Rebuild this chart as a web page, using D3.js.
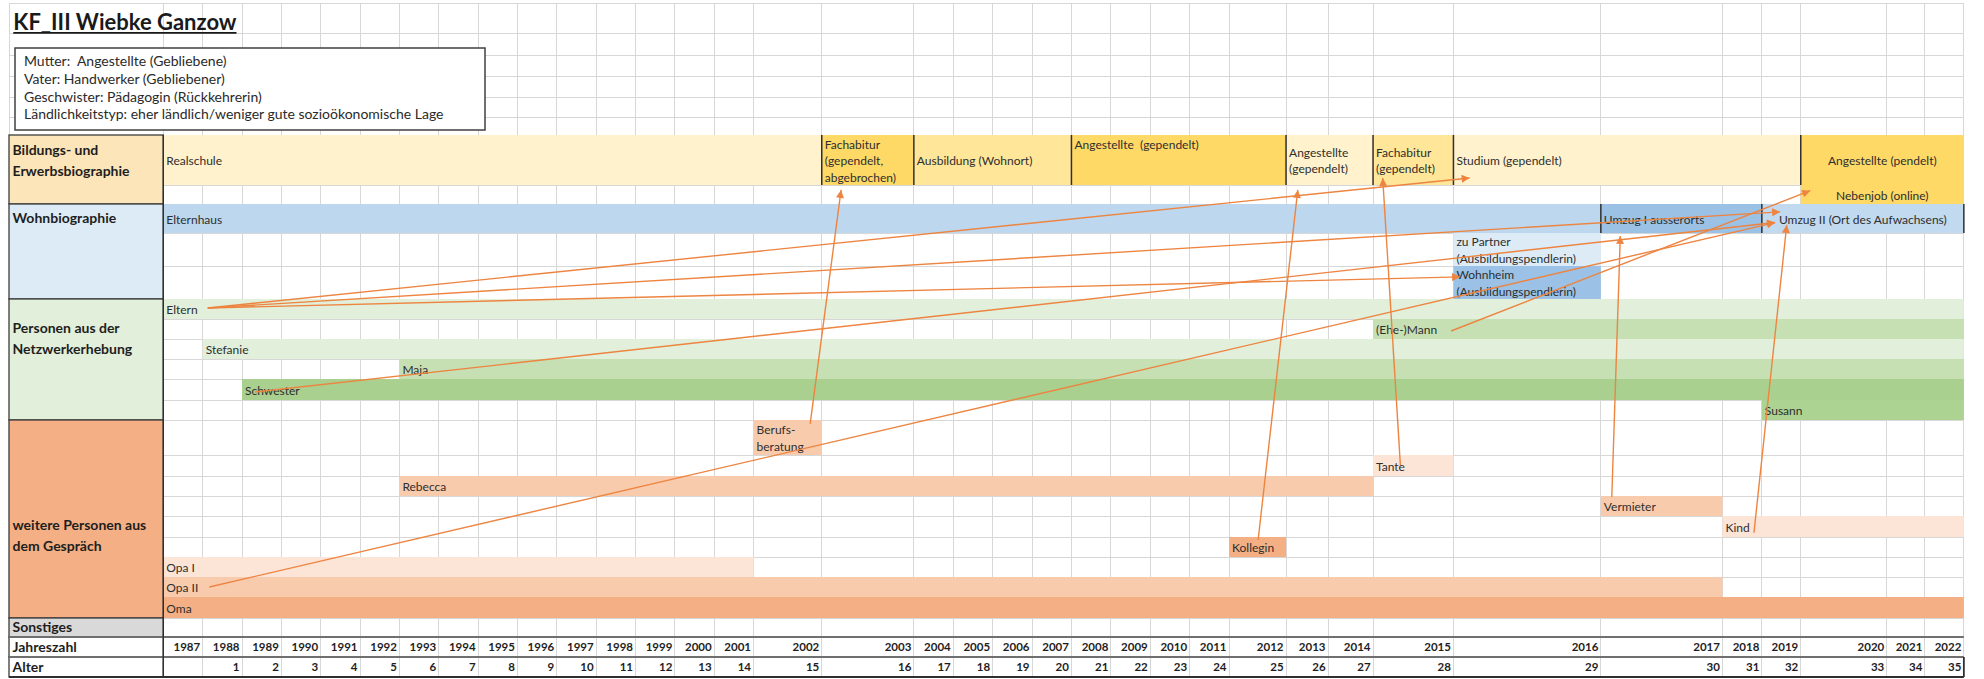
<!DOCTYPE html>
<html><head><meta charset="utf-8">
<script src="https://cdn.jsdelivr.net/npm/d3@7"></script>
<style>
html,body{margin:0;padding:0;background:#fff;}
svg{display:block;font-family:Lato,'Open Sans',sans-serif;}
svg text{white-space:pre;}
</style></head><body>
<svg id="chart" width="1984" height="679"></svg>
<script>
// ---------------- DATA ----------------
const titleText = "KF_III Wiebke Ganzow";
const infoLines = [
  "Mutter:  Angestellte (Gebliebene)",
  "Vater: Handwerker (Gebliebener)",
  "Geschwister: Pädagogin (Rückkehrerin)",
  "Ländlichkeitstyp: eher ländlich/weniger gute sozioökonomische Lage"
];
const years = [1987,1988,1989,1990,1991,1992,1993,1994,1995,1996,1997,1998,1999,2000,2001,2002,2003,2004,2005,2006,2007,2008,2009,2010,2011,2012,2013,2014,2015,2016,2017,2018,2019,2020,2021,2022];
const ages  = ["",1,2,3,4,5,6,7,8,9,10,11,12,13,14,15,16,17,18,19,20,21,22,23,24,25,26,27,28,29,30,31,32,33,34,35];

const sectionLabels = [
  {lines:["Bildungs- und","Erwerbsbiographie"], rows:["bild","neben"]},
  {lines:["Wohnbiographie"], rows:["wohn1","wohn3"]},
  {lines:["Personen aus der","Netzwerkerhebung"], rows:["eltern","susann"]},
  {lines:["weitere Personen aus","dem Gespräch"], rows:["berufs","oma"]},
  {lines:["Sonstiges"], rows:["sonst","sonst"]},
  {lines:["Jahreszahl"], rows:["jahr","jahr"]},
  {lines:["Alter"], rows:["alter","alter"]}
];

const bildung = [
  {id:"realschule",   lines:["Realschule"], from:1987, to:2002, rows:["bild","bild"]},
  {id:"fachabitur1",  lines:["Fachabitur","(gependelt,","abgebrochen)"], from:2003, to:2003, rows:["bild","bild"]},
  {id:"ausbildung",   lines:["Ausbildung (Wohnort)"], from:2004, to:2007, rows:["bild","bild"]},
  {id:"angestellte1", lines:["Angestellte  (gependelt)"], from:2008, to:2012, rows:["bild","bild"]},
  {id:"angestellte2", lines:["Angestellte","(gependelt)"], from:2013, to:2014, rows:["bild","bild"]},
  {id:"fachabitur2",  lines:["Fachabitur","(gependelt)"], from:2015, to:2015, rows:["bild","bild"]},
  {id:"studium",      lines:["Studium (gependelt)"], from:2016, to:2019, rows:["bild","bild"]},
  {id:"angestellte3", lines:["Angestellte (pendelt)"], from:2020, to:2022, rows:["bild","neben"]},
  {id:"nebenjob",     lines:["Nebenjob (online)"], from:2020, to:2022, rows:["neben","neben"]}
];
const wohnen = [
  {id:"elternhaus", lines:["Elternhaus"], from:1987, to:2016, rows:["wohn1","wohn1"]},
  {id:"umzug1",     lines:["Umzug I ausserorts"], from:2017, to:2018, rows:["wohn1","wohn1"]},
  {id:"umzug2",     lines:["Umzug II (Ort des Aufwachsens)"], from:2019, to:2022, rows:["wohn1","wohn1"]},
  {id:"partner",    lines:["zu Partner","(Ausbildungspendlerin)"], from:2016, to:2016, rows:["wohn2","wohn2"]},
  {id:"wohnheim",   lines:["Wohnheim","(Ausbildungspendlerin)"], from:2016, to:2016, rows:["wohn3","wohn3"]}
];
const netzwerk = [
  {id:"eltern",    lines:["Eltern"], from:1987, to:2022, rows:["eltern","eltern"]},
  {id:"mann",      lines:["(Ehe-)Mann"], from:2015, to:2022, rows:["mann","mann"]},
  {id:"stefanie",  lines:["Stefanie"], from:1988, to:2022, rows:["stefanie","stefanie"]},
  {id:"maja",      lines:["Maja"], from:1993, to:2022, rows:["maja","maja"]},
  {id:"schwester", lines:["Schwester"], from:1989, to:2022, rows:["schwester","schwester"]},
  {id:"susann",    lines:["Susann"], from:2019, to:2022, rows:["susann","susann"]}
];
const gespraech = [
  {id:"berufs",    lines:["Berufs-","beratung"], from:2002, to:2002, rows:["berufs","berufs"]},
  {id:"tante",     lines:["Tante"], from:2015, to:2015, rows:["tante","tante"]},
  {id:"rebecca",   lines:["Rebecca"], from:1993, to:2014, rows:["rebecca","rebecca"]},
  {id:"vermieter", lines:["Vermieter"], from:2017, to:2017, rows:["vermieter","vermieter"]},
  {id:"kind",      lines:["Kind"], from:2018, to:2022, rows:["kind","kind"]},
  {id:"kollegin",  lines:["Kollegin"], from:2012, to:2012, rows:["kollegin","kollegin"]},
  {id:"opa1",      lines:["Opa I"], from:1987, to:2001, rows:["opa1","opa1"]},
  {id:"opa2",      lines:["Opa II"], from:1987, to:2017, rows:["opa2","opa2"]},
  {id:"oma",       lines:["Oma"], from:1987, to:2022, rows:["oma","oma"]}
];
// connections: [year (fractional), row, fraction within row]
const links = [
  {from:[1988.13,"eltern",0.45],    to:[2016.11,"bild",0.86]},
  {from:[1988.13,"eltern",0.45],    to:[2019.47,"wohn1",0.27]},
  {from:[1988.13,"eltern",0.45],    to:[2016.045,"wohn3",0.33]},
  {from:[1989.33,"schwester",0.62], to:[2019.34,"wohn1",0.64]},
  {from:[1988.17,"opa2",0.5],       to:[2019.34,"wohn1",0.64]},
  {from:[2015.97,"mann",0.6],       to:[2020.11,"neben",0.3]},
  {from:[2018.8,"kind",0.8],        to:[2019.64,"wohn1",0.72]},
  {from:[2017.09,"vermieter",0.05], to:[2017.16,"wohn2",0.09]},
  {from:[2002.83,"berufs",0.11],    to:[2003.21,"neben",0.26]},
  {from:[2012.51,"kollegin",0.15],  to:[2013.28,"neben",0.26]},
  {from:[2015.34,"tante",0.48],     to:[2015.12,"bild",0.86]}
];

// ---------------- LAYOUT / STYLE ----------------
const colWidths = [39.35,39.35,39.35,39.35,39.35,39.35,39.35,39.35,39.35,39.35,39.35,39.35,39.35,39.35,39.35,
  68.2,92.1,39.4,39.4,39.4,39.4,39.4,39.4,39.4,39.4,57,42,45,80.4,147.4,121.6,39.4,38.9,86,38.1,39];
const rowKeys = ["t0","t1","t2","t3","t4","t5","bild","neben","wohn1","wohn2","wohn3","eltern","mann","stefanie","maja","schwester","susann","berufs","tante","rebecca","vermieter","kind","kollegin","opa1","opa2","oma","sonst","jahr","alter"];
const rowHeights = [30,22,21,21,20,18,50,19,29,33,33,20,20,20,20,21,20,35,21,20,20,21,20,20,20,21,19,20,20];
const gridLeft = 163.3, labelLeft = 9, topY = 3;

const fills = {
  realschule:"#fff2cc", fachabitur1:"#ffd966", ausbildung:"#ffe699", angestellte1:"#ffd966", angestellte2:"#fff2cc",
  fachabitur2:"#ffe699", studium:"#fff2cc", angestellte3:"#ffd966", nebenjob:"none",
  elternhaus:"#bdd7ee", umzug1:"#9bc1e5", umzug2:"#c2daf0", partner:"#ddebf7", wohnheim:"#9bc2e6",
  eltern:"#e2efda", mann:"#c6e0b4", stefanie:"#e2efda", maja:"#c6e0b4", schwester:"#a9d08e", susann:"#add392",
  berufs:"#f8cbad", tante:"#fce4d6", rebecca:"#f8cbad", vermieter:"#f8cbad", kind:"#fce4d6", kollegin:"#f4b084",
  opa1:"#fce4d6", opa2:"#f8cbad", oma:"#f4b084"
};
const sectionFills = ["#fce5b8","#ddebf7","#e2efda","#f4b084","#d9d9d9","#ffffff","#ffffff"];
const sectionTextAnchor = [["bild",0.52],["wohn1",0.5],["stefanie",0],["kind",0.95],["sonst",0.5],["jahr",0.5],["alter",0.5]];
const centeredText = new Set(["angestellte3","nebenjob","umzug2"]);
const topText = new Set(["angestellte1"]);
const lineColor = "#ed8440";
const textColor = "#2e2e2e";

// ---------------- SCALES ----------------
const endYear = years[years.length-1] + 1;
const edges = [gridLeft];
colWidths.forEach(w => edges.push(edges[edges.length-1] + w));
const x = d3.scaleLinear().domain(years.concat([endYear])).range(edges);

const rowTops = [topY];
rowHeights.forEach(h => rowTops.push(rowTops[rowTops.length-1] + h));
const yIdx = d3.scaleLinear().domain(d3.range(rowKeys.length + 1)).range(rowTops);
const y = (key, f = 0) => yIdx(rowKeys.indexOf(key) + f);

const svg = d3.select("#chart");
svg.append("rect").attr("width",1984).attr("height",679).attr("fill","#fff");

// ---------------- GRID ----------------
const grid = svg.append("g").attr("stroke","#d7d7d7").attr("stroke-width",1).attr("shape-rendering","crispEdges");
grid.selectAll("line.v").data(years.concat([endYear])).join("line")
  .attr("x1", d => x(d)).attr("x2", d => x(d))
  .attr("y1", y("t0")).attr("y2", y("alter",1));
grid.selectAll("line.h").data(d3.range(rowKeys.length)).join("line")
  .attr("x1", i => i <= 6 ? labelLeft : x(years[0]))
  .attr("x2", x(endYear))
  .attr("y1", i => yIdx(i)).attr("y2", i => yIdx(i));
grid.append("line").attr("x1",labelLeft).attr("x2",labelLeft).attr("y1",y("t0")).attr("y2",y("bild"));

// ---------------- SECTION LABEL CELLS ----------------
const sec = svg.append("g");
sec.selectAll("rect").data(sectionLabels).join("rect")
  .attr("x", labelLeft).attr("width", x(years[0]) - labelLeft)
  .attr("y", d => y(d.rows[0])).attr("height", d => y(d.rows[1],1) - y(d.rows[0]))
  .attr("fill", (d,i) => sectionFills[i])
  .attr("stroke", "#3c3c3c").attr("stroke-width", 1.3);
sec.selectAll("text").data(sectionLabels).join("text")
  .attr("font-weight","bold").attr("font-size",14).attr("fill","#1e1e1e")
  .each(function(d,i){
    const a = sectionTextAnchor[i];
    const cy = y(a[0], a[1]);
    const n = d.lines.length;
    d3.select(this).selectAll("tspan").data(d.lines).join("tspan")
      .attr("x", labelLeft + 3.5)
      .attr("y", (t,j) => cy + (j - (n-1)/2) * 21)
      .attr("dy","0.35em")
      .text(t => t);
  });

// ---------------- BARS ----------------
const allBars = bildung.concat(wohnen, netzwerk, gespraech);
svg.append("g").selectAll("rect").data(allBars.filter(d => fills[d.id] !== "none")).join("rect")
  .attr("x", d => x(d.from)).attr("width", d => x(d.to + 1) - x(d.from))
  .attr("y", d => y(d.rows[0])).attr("height", d => y(d.rows[1],1) - y(d.rows[0]))
  .attr("fill", d => fills[d.id]);

// dark separators in education / housing rows
const sep = svg.append("g").attr("stroke","#2f2f2f").attr("stroke-width",1.5);
sep.selectAll("line.b").data(bildung.filter(d => d.from > years[0] && d.id !== "nebenjob")).join("line")
  .attr("x1", d => x(d.from)).attr("x2", d => x(d.from))
  .attr("y1", y("bild")).attr("y2", y("bild",1));
sep.selectAll("line.w").data([wohnen[1].from, wohnen[2].from, endYear]).join("line")
  .attr("x1", d => x(d)).attr("x2", d => x(d))
  .attr("y1", y("wohn1")).attr("y2", y("wohn1",1));

// bar texts
const tg = svg.append("g").attr("font-size",12).attr("fill",textColor);
tg.selectAll("text").data(allBars).join("text")
  .attr("text-anchor", d => centeredText.has(d.id) ? "middle" : "start")
  .each(function(d){
    const x0 = centeredText.has(d.id) ? (x(d.from) + x(d.to+1))/2 : x(d.from) + 3;
    const rowKey = d.id === "angestellte3" ? "bild" : d.rows[0];
    const top = y(rowKey), bot = y(rowKey,1);
    const n = d.lines.length;
    const lh = 16.5;
    let cy = (top + bot)/2 + 1;
    if (topText.has(d.id)) cy = top + 10;
    d3.select(this).selectAll("tspan").data(d.lines).join("tspan")
      .attr("x", x0)
      .attr("y", (t,j) => cy + (j - (n-1)/2) * lh)
      .attr("dy","0.35em")
      .text(t => t);
  });

// ---------------- BOTTOM ROWS ----------------
const bl = svg.append("g");
bl.append("line").attr("x1",labelLeft).attr("x2",x(endYear)).attr("y1",y("jahr")).attr("y2",y("jahr"))
  .attr("stroke","#6f6f6f").attr("stroke-width",2.2);
bl.append("line").attr("x1",labelLeft).attr("x2",x(endYear)).attr("y1",y("alter")).attr("y2",y("alter"))
  .attr("stroke","#6f6f6f").attr("stroke-width",2.2);
bl.append("line").attr("x1",labelLeft).attr("x2",x(endYear)).attr("y1",y("alter",1)).attr("y2",y("alter",1))
  .attr("stroke","#2f2f2f").attr("stroke-width",1.8);
bl.append("line").attr("x1",x(endYear)).attr("x2",x(endYear)).attr("y1",y("alter")).attr("y2",y("alter",1))
  .attr("stroke","#2f2f2f").attr("stroke-width",1.8);
bl.append("line").attr("x1",x(years[0])).attr("x2",x(years[0])).attr("y1",y("bild")).attr("y2",y("alter",1))
  .attr("stroke","#2f2f2f").attr("stroke-width",1.4);

function rowAxis(rowKey, fmt){
  const g = svg.append("g").attr("transform", `translate(0,${y(rowKey,0.5)})`)
    .call(d3.axisBottom(x).tickValues(years).tickSize(0).tickFormat(fmt));
  g.select(".domain").remove();
  g.attr("font-family","Lato,'Open Sans',sans-serif").attr("font-size",11.5).attr("font-weight","bold");
  g.selectAll(".tick text")
    .attr("text-anchor","end").attr("fill","#1e1e1e")
    .attr("x", d => x(d+1) - x(d) - 3).attr("y", 0).attr("dy","0.36em");
}
rowAxis("jahr", d => String(d));
rowAxis("alter", (d,i) => ages[i]);

// ---------------- TITLE & INFO BOX ----------------
const title = svg.append("text").attr("x",13.3).attr("y",29.5).attr("font-size",22).attr("font-weight","bold")
  .attr("fill","#1a1a1a").text(titleText);
const tw = title.node().getComputedTextLength();
svg.append("line").attr("x1",13.3).attr("x2",13.3+tw).attr("y1",32.8).attr("y2",32.8)
  .attr("stroke","#1a1a1a").attr("stroke-width",1.8);

svg.append("rect").attr("x",15).attr("y",48).attr("width",470).attr("height",82)
  .attr("fill","#fff").attr("stroke","#404040").attr("stroke-width",1.5);
svg.append("g").attr("font-size",14).attr("fill","#2a2a2a")
  .selectAll("text").data(infoLines).join("text")
  .attr("x",24).attr("y",(d,i) => 66 + i*17.8).text(d => d);

// ---------------- ARROWS ----------------
const defs = svg.append("defs");
defs.append("marker").attr("id","arr").attr("viewBox","0 0 10 10").attr("refX",10).attr("refY",5)
  .attr("markerUnits","userSpaceOnUse").attr("markerWidth",10).attr("markerHeight",8).attr("orient","auto")
  .append("path").attr("d","M0,0 L10,5 L0,10 z").attr("fill",lineColor);
svg.append("g").selectAll("line").data(links).join("line")
  .attr("x1", d => x(d.from[0])).attr("y1", d => y(d.from[1], d.from[2]))
  .attr("x2", d => x(d.to[0])).attr("y2", d => y(d.to[1], d.to[2]))
  .attr("stroke", lineColor).attr("stroke-width",1.4).attr("marker-end","url(#arr)");
</script>
</body></html>
